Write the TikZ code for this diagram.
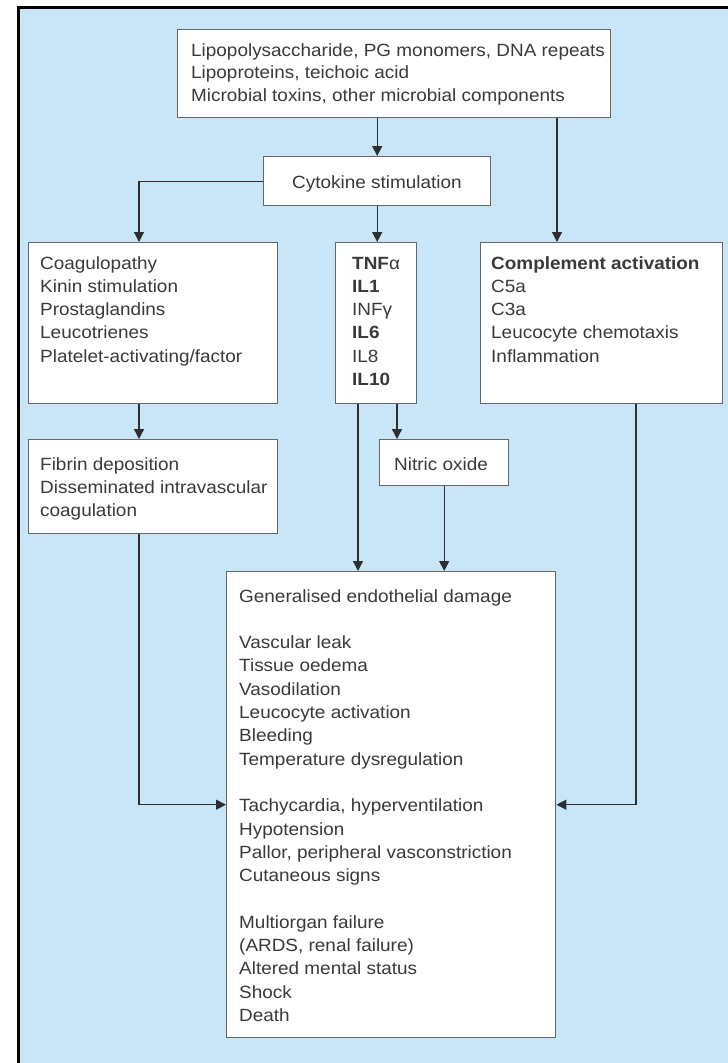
\documentclass[tikz,border=0pt]{standalone}
\usepackage{fontspec}
\setmainfont{Liberation Sans}[FakeStretch=1.07]
\usetikzlibrary{arrows.meta}
\definecolor{spsSky}{HTML}{C8E6F8}
\definecolor{spsInk}{HTML}{3A3A3A}
\definecolor{spsEdge}{HTML}{666666}
\definecolor{spsLine}{HTML}{2E2E2E}
\tikzset{
  sps frame/.style={draw=black, line width=3pt},
  sps box/.style={draw=spsEdge, fill=white, line width=1.4pt, anchor=north west, inner sep=0pt},
  sps text/.style={anchor=base west, align=left, inner sep=0pt, text=spsInk, font=\fontsize{17.7}{23.3}\selectfont},
  sps link/.style={draw=spsLine, line width=1.3pt, -{Triangle[length=10pt,width=10pt]}},
}
\begin{document}
\begin{tikzpicture}[x=1pt,y=-1pt]
\useasboundingbox(0,0)rectangle(728,1063);
\fill[spsSky](20,9)rectangle(728,1063);
\draw[sps frame](18.5,1063)--(18.5,7.5)--(728,7.5);
% boxes
\node[sps box,minimum width=433,minimum height=88](src)at(177,29){};
\node[sps box,minimum width=227,minimum height=49](cyt)at(263,156){};
\node[sps box,minimum width=249,minimum height=161](lft)at(28,242){};
\node[sps box,minimum width=81,minimum height=161](mid)at(335,242){};
\node[sps box,minimum width=242,minimum height=161](cmp)at(480,242){};
\node[sps box,minimum width=249,minimum height=94](fib)at(28,439){};
\node[sps box,minimum width=129,minimum height=46](nit)at(379,439){};
\node[sps box,minimum width=329,minimum height=466](end)at(226,571){};
% texts (placed at the baseline of their last line)
\node[sps text,font=\fontsize{17.7}{22.7}\selectfont](srcT)at(191,101.4){Lipopolysaccharide, PG monomers, DNA repeats\\Lipoproteins, teichoic acid\\Microbial toxins, other microbial components};
\node[sps text](cytT)at(292,188){Cytokine stimulation};
\node[sps text](lftT)at(40,362.2){Coagulopathy\\Kinin stimulation\\Prostaglandins\\Leucotrienes\\Platelet-activating/factor};
\node[sps text](midT)at(352,385.5){\textbf{TNF}α\\\textbf{IL1}\\INFγ\\\textbf{IL6}\\IL8\\\textbf{IL10}};
\node[sps text](cmpT)at(491,362.2){\textbf{Complement activation}\\C5a\\C3a\\Leucocyte chemotaxis\\Inflammation};
\node[sps text](fibT)at(40,516.6){Fibrin deposition\\Disseminated intravascular\\coagulation};
\node[sps text](nitT)at(394,470){Nitric oxide};
\node[sps text](endT)at(239,1021.4){Generalised endothelial damage\\\mbox{}\\Vascular leak\\Tissue oedema\\Vasodilation\\Leucocyte activation\\Bleeding\\Temperature dysregulation\\\mbox{}\\Tachycardia, hyperventilation\\Hypotension\\Pallor, peripheral vasconstriction\\Cutaneous signs\\\mbox{}\\Multiorgan failure\\(ARDS, renal failure)\\Altered mental status\\Shock\\Death};
% connectors
\draw[sps link](src.south -| cyt.north)--(cyt.north);
\draw[sps link](557,0 |- src.south)--(557,0 |- cmp.north);
\draw[sps link](cyt.west)-|(139,0 |- lft.north);
\draw[sps link](cyt.south)--(cyt.south |- mid.north);
\draw[sps link](139,0 |- lft.south)--(139,0 |- fib.north);
\draw[sps link](358,0 |- mid.south)--(358,0 |- end.north);
\draw[sps link](397,0 |- mid.south)--(397,0 |- nit.north);
\draw[sps link](nit.south)--(nit.south |- end.north);
\draw[sps link](139,0 |- fib.south)|-(end.west);
\draw[sps link](636,0 |- cmp.south)|-(end.east);
\end{tikzpicture}
\end{document}
